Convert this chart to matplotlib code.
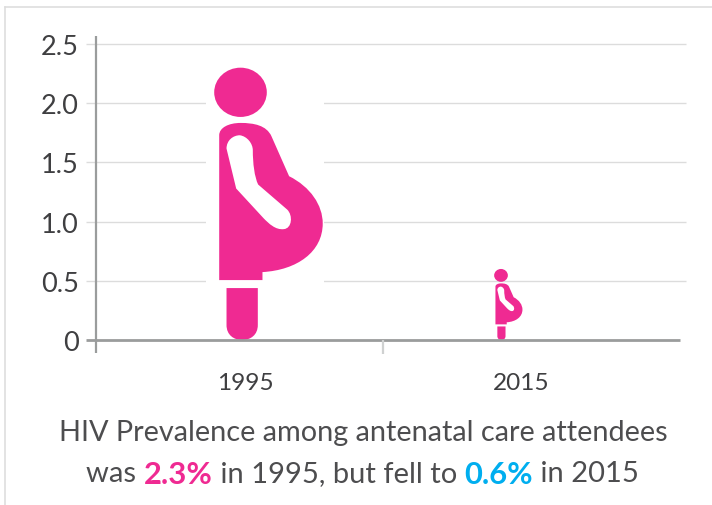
import matplotlib
matplotlib.use("Agg")
import matplotlib.pyplot as plt
from matplotlib.path import Path
from matplotlib.patches import PathPatch, Rectangle
import numpy as np

categories = ["1995", "2015"]
values = [2.3, 0.6]
y_ticks = [0, 0.5, 1.0, 1.5, 2.0, 2.5]
y_labels = ["0", "0.5", "1.0", "1.5", "2.0", "2.5"]
line1 = "HIV Prevalence among antenatal care attendees"
line2_parts = [("was ", "#4d4d4f", "normal"), ("2.3%", "#ef2a92", "bold"),
               (" in 1995, but fell to ", "#4d4d4f", "normal"), ("0.6%", "#00aeef", "bold"),
               (" in 2015", "#4d4d4f", "normal")]

W, H = 712, 506
plt.rcParams['font.family'] = ['Lato', 'DejaVu Sans']
fig = plt.figure(figsize=(W/100, H/100), dpi=100)
L, R, T, B = 96, 680, 45, 341
ax = fig.add_axes([L/W, 1-B/H, (R-L)/W, (B-T)/H])
PX = 287.0
ax.set_xlim(-(239.5-L)/PX, (R-239.5)/PX)
ax.set_ylim(0, 2.5)
ypx = (B-T)/2.5
for s in ax.spines.values():
    s.set_visible(False)
ax.set_xticks([]); ax.set_yticks([])

GRID = "#dcdcdc"; AX = "#9a9c9c"; TXT = "#3f3f41"
for t in y_ticks[1:]:
    ax.plot([-(239.5-86)/PX, (686-239.5)/PX], [t, t], color=GRID, lw=1.0, zorder=1, clip_on=False, solid_capstyle='butt')

M, C4, Ln, Z = Path.MOVETO, Path.CURVE4, Path.LINETO, Path.CLOSEPOLY
body = [(M,(86,690)),(Ln,(86,255)),(C4,(86,232)),(C4,(115,218)),(C4,(150,218)),
        (C4,(190,218)),(C4,(228,225)),(C4,(243,258)),(Ln,(296,378)),
        (C4,(360,410)),(C4,(397,465)),(C4,(397,520)),
        (C4,(397,605)),(C4,(320,660)),(C4,(216,666)),(Ln,(216,690)),(Z,(86,690))]
# arm runs the opposite way round so it cuts a hole in the body
arm = [(M,(108,295)),(Ln,(137,415)),(Ln,(220,505)),
       (C4,(235,520)),(C4,(255,540)),(C4,(280,537)),
       (C4,(305,535)),(C4,(308,495)),(C4,(290,478)),
       (Ln,(203,403)),(C4,(192,380)),(C4,(187,340)),(C4,(187,300)),
       (C4,(187,280)),(C4,(170,258)),(C4,(148,255)),
       (C4,(128,255)),(C4,(108,270)),(C4,(108,295)),(Z,(108,295))]
leg = [(M,(108,714)),(Ln,(202,714)),(Ln,(202,825)),(C4,(202,855)),(C4,(180,870)),(C4,(155,870)),
       (C4,(130,870)),(C4,(108,855)),(C4,(108,825)),(Z,(108,714))]
k = 0.5523
cx, cy, rx, ry = 150, 126, 79, 74
head = [(M,(cx+rx,cy)),(C4,(cx+rx,cy-k*ry)),(C4,(cx+k*rx,cy-ry)),(C4,(cx,cy-ry)),
        (C4,(cx-k*rx,cy-ry)),(C4,(cx-rx,cy-k*ry)),(C4,(cx-rx,cy)),
        (C4,(cx-rx,cy+k*ry)),(C4,(cx-k*rx,cy+ry)),(C4,(cx,cy+ry)),
        (C4,(cx+k*rx,cy+ry)),(C4,(cx+rx,cy+k*ry)),(C4,(cx+rx,cy)),(Z,(cx+rx,cy))]
segs = body + arm + leg + head
codes = [c for c, _ in segs]
verts = np.array([p for _, p in segs], float)
verts[:, 0] = (verts[:, 0] - 150) / 818
verts[:, 1] = (870 - verts[:, 1]) / 818
aspect = ypx / PX

offsets = [(240.5-239.5)/PX, (501-239.5)/PX]
label_offsets = [(245-239.5)/PX, (521-239.5)/PX]
for v, off in zip(values, offsets):
    xs = off + verts[:, 0]*v*aspect
    ys = verts[:, 1]*v
    if v > 1:  # only the large icon interrupts the grid lines
        ax.add_patch(Rectangle((off + (-105/818)*v*aspect, 0.01), (357/818)*v*aspect, v,
                               fc="white", ec="none", zorder=2))
    ax.add_patch(PathPatch(Path(np.column_stack([xs, ys]), codes), fc="#ef2a92", ec="none", zorder=3))

ax.plot([-(239.5-86)/PX, (680-239.5)/PX], [0, 0], color=AX, lw=2, zorder=4, clip_on=False, solid_capstyle='butt')
ax.plot([-(239.5-96)/PX]*2, [-13/ypx, 304/ypx], color=AX, lw=1.6, zorder=4, clip_on=False, solid_capstyle='butt')
ax.plot([(383-239.5)/PX]*2, [-14/ypx, 0], color="#cfd1d1", lw=1.6, zorder=4, clip_on=False, solid_capstyle='butt')

for t, lab in zip(y_ticks, y_labels):
    ax.text(-(239.5-79)/PX, t, lab, ha='right', va='center_baseline', fontsize=19.5, color=TXT)
for off, lab in zip(label_offsets, categories):
    ax.text(off, -40/ypx, lab, ha='center', va='center_baseline', fontsize=17.6, color=TXT)

fig.text(363/W, 1-431/H, line1, ha='center', va='center_baseline', fontsize=20.8, color="#4d4d4f")

fig.canvas.draw()
rend = fig.canvas.get_renderer()
y2 = 1-472/H
pieces = []
total = 0
for s, col, wt in line2_parts:
    size = 22.2 if wt == "bold" else 21.0
    t = fig.text(0, y2, s.replace(" ", "\u00a0"), color=col, fontweight=wt, fontsize=size, va='center_baseline', ha='left')
    w = t.get_window_extent(rend).width
    pieces.append((t, w)); total += w
x = 362.5 - total/2
for t, w in pieces:
    t.set_x(x/W); x += w

fig.add_artist(plt.Line2D([4.5/W, 4.5/W], [0, 1-7.5/H], color="#dedede", lw=1.2))
fig.add_artist(plt.Line2D([4.5/W, 1], [1-7.5/H, 1-7.5/H], color="#dedede", lw=1.2))

fig.savefig("out.png", dpi=100)
